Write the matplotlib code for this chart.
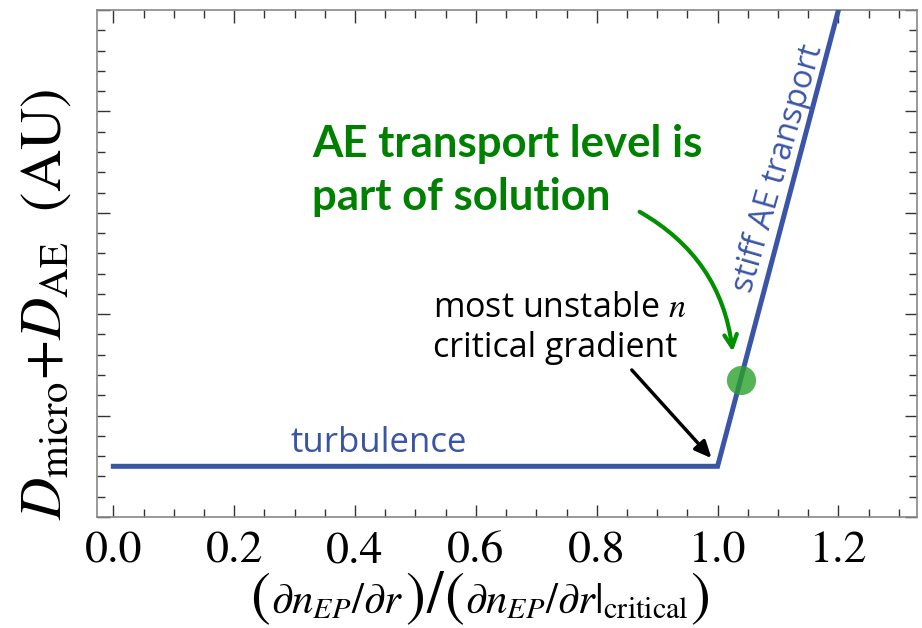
import matplotlib
matplotlib.use("Agg")
import matplotlib.pyplot as plt
from matplotlib.ticker import MultipleLocator, NullFormatter
from matplotlib.offsetbox import TextArea, HPacker, AnnotationBbox

plt.rcParams['mathtext.fontset'] = 'stix'

# ---- data ----
x_curve = [0.0, 1.0, 1.2]
y_curve = [0.5, 0.5, 5.0]
dot_x = [1.038]
dot_y = [1.355]
xticks = [0.0, 0.2, 0.4, 0.6, 0.8, 1.0, 1.2]
xticklabels = ["0.0", "0.2", "0.4", "0.6", "0.8", "1.0", "1.2"]

blue = "#3a55a8"
green = "#008000"

fig = plt.figure(figsize=(9.22, 6.28), dpi=100)
ax = fig.add_axes([97/922, 1-517/628, (917-97)/922, (517-10)/628])

ax.plot(x_curve, y_curve, color=blue, lw=3.6, solid_joinstyle='miter', zorder=3)
ax.plot(dot_x, dot_y, 'o', ms=21, color="#2ca02c", alpha=0.8, mec='none', zorder=4)

ax.set_xlim(-0.027, 1.33)
ax.set_ylim(0, 5)
ax.set_xticks(xticks)
ax.set_xticklabels(xticklabels, family='STIXGeneral', fontsize=33)
ax.xaxis.set_minor_locator(MultipleLocator(0.05))
ax.yaxis.set_major_locator(MultipleLocator(1))
ax.yaxis.set_minor_locator(MultipleLocator(0.2))
ax.yaxis.set_major_formatter(NullFormatter())
ax.tick_params(which='both', direction='in', top=True, right=True, color='#333333', width=1)
ax.tick_params(which='major', length=9, pad=10)
ax.tick_params(which='minor', length=5.5)
for s in ax.spines.values():
    s.set_color('#888888')
    s.set_linewidth(1.2)

# y label
fig.text(47/922, 1-304/628, r'$D_{\mathrm{micro}}$+$D_{\mathrm{AE}}$  (AU)', rotation=90,
         ha='center', va='center', family='STIXGeneral', fontsize=42)

# x label built from pieces so the parentheses can be large
big = dict(family='STIXGeneral', fontsize=43, color='black')
small = dict(fontsize=31, color='black')
parts = [
    TextArea("(", textprops=big),
    TextArea(r"$\partial n_{EP}/\partial r$", textprops=small),
    TextArea(")", textprops=big),
    TextArea("/", textprops=big),
    TextArea("(", textprops=big),
    TextArea(r"$\partial n_{EP}/\partial r|_{\mathrm{critical}}$", textprops=small),
    TextArea(")", textprops=big),
]
pack = HPacker(children=parts, align='baseline', pad=0, sep=1)
ab = AnnotationBbox(pack, (480/922, 1-599/628), xycoords='figure fraction', frameon=False,
                    box_alignment=(0.5, 0.5), pad=0, annotation_clip=False)
fig.add_artist(ab)

# annotations
ax.text(0.2926, 0.641, "turbulence", color=blue, family='Open Sans', fontsize=25,
        ha='left', va='baseline')
ax.text(1.1, 3.44, "stiff AE transport", color=blue, family='Open Sans', fontsize=23.5,
        rotation=74, ha='center', va='center', rotation_mode='anchor')
ax.text(0.329, 3.55, "AE transport level is", color=green, family='Lato', fontweight='bold',
        fontsize=31.5, ha='left', va='baseline')
ax.text(0.329, 3.03, "part of solution", color=green, family='Lato', fontweight='bold',
        fontsize=31.5, ha='left', va='baseline')
ax.text(0.529, 1.97, r"most unstable $n$", color='black', family='Open Sans', fontsize=24.5,
        ha='left', va='baseline')
ax.text(0.529, 1.58, "critical gradient", color='black', family='Open Sans', fontsize=24.5,
        ha='left', va='baseline')

ax.annotate("", xy=(0.990, 0.58), xytext=(0.858, 1.45),
            arrowprops=dict(arrowstyle='-|>,head_length=1.0,head_width=0.45', color='black', lw=2.5,
                            shrinkA=0, shrinkB=0))
ax.annotate("", xy=(1.025, 1.63), xytext=(0.871, 3.01),
            arrowprops=dict(arrowstyle='->,head_length=0.9,head_width=0.45', color='#009000', lw=3,
                            shrinkA=0, shrinkB=0, connectionstyle='arc3,rad=-0.25'))

fig.savefig("out.png", dpi=100)
